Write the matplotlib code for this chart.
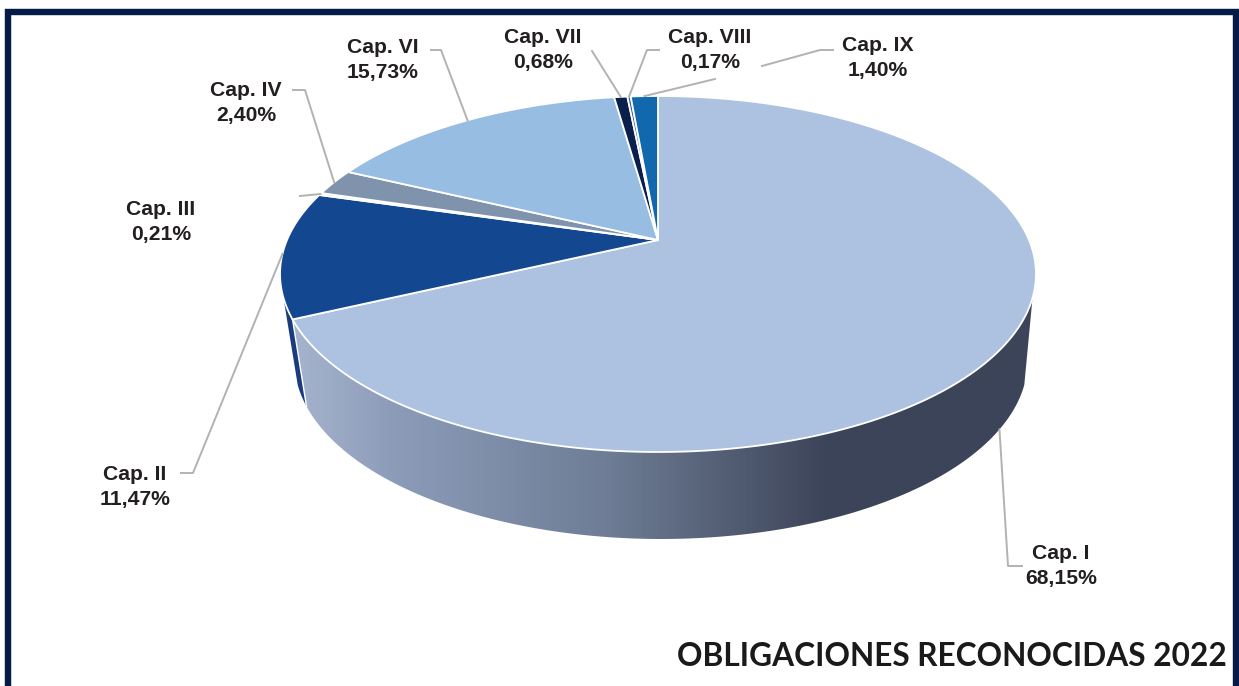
import numpy as np
import matplotlib
matplotlib.use("Agg")
from matplotlib import pyplot as plt
from matplotlib.colors import LinearSegmentedColormap
from matplotlib.patches import Polygon

labels = ["Cap. I", "Cap. II", "Cap. III", "Cap. IV", "Cap. VI", "Cap. VII", "Cap. VIII", "Cap. IX"]
values = [68.15, 11.47, 0.21, 2.40, 15.73, 0.68, 0.17, 1.40]
value_text = ["68,15%", "11,47%", "0,21%", "2,40%", "15,73%", "0,68%", "0,17%", "1,40%"]
colors = ["#adc2e1", "#134891", "#d3d3d3", "#7f93ad", "#98bde2", "#0a1f4c", "#2f5597", "#1268ad"]
title = "OBLIGACIONES RECONOCIDAS 2022"

# label centres, in pixels of the picture
label_pos = [(1061, 566), (135, 487), (161, 222), (246, 103), (383, 60), (543, 50), (710, 50), (878, 58)]
# elbow points of the leader lines, label side first
elbows = [
    [(1022, 566), (1008, 566)],
    [(181, 473), (193, 473)],
    [(300, 196)],
    [(293, 90), (305, 90)],
    [(431, 50), (441, 50)],
    [(592, 51)],
    [(659, 50), (647, 50)],
    [(833, 50), (820, 50)],
]

# tilted disc: circle seen in perspective, the apex sits above the ellipse centre
CX, CY = 658, 240
KX, KY, K = 371.0, 171.5, 0.191
DEPTH = 87
LINE = "#b2b2b2"


def rim(deg):
    t = np.radians(deg)
    u, v = np.sin(t), np.cos(t)
    return CX + KX * u / (1 + K * v), CY - KY * v / (1 + K * v)


def lower(deg):
    x, y = rim(deg)
    return 661 + (x - CX) * 0.97, y + DEPTH


fig = plt.figure(figsize=(12.39, 6.86), dpi=100)
ax = fig.add_axes([0, 0, 1, 1])
ax.set_axis_off()

edges = np.concatenate([[0], np.cumsum(values)]) / np.sum(values) * 360
mids = (edges[:-1] + edges[1:]) / 2

# side wall of Cap. II, behind the one of Cap. I
WALL_END = 108.5
WALL_START = 251.5
t = np.linspace(edges[1], WALL_START, 30)
xs = np.concatenate([rim(t)[0], lower(t)[0][::-1]])
ys = np.concatenate([rim(t)[1], lower(t)[1][::-1]])
ax.fill(xs, ys, color="#1a3c7d", lw=0, zorder=1)

# side wall of Cap. I with its horizontal gradient
t = np.linspace(WALL_END, edges[1], 200)
xs = np.concatenate([rim(t)[0], lower(t)[0][::-1]])
ys = np.concatenate([rim(t)[1], lower(t)[1][::-1]])
cmap = LinearSegmentedColormap.from_list(
    "wall",
    [(0, "#a6b4ce"), (0.14, "#8c9bb8"), (0.42, "#6f7e96"), (0.72, "#3c4459"), (1, "#3c4459")],
)
im = ax.imshow(np.linspace(0, 1, 400)[None, :], cmap=cmap, extent=(290, 1036, 560, 270),
               aspect="auto", zorder=2)
clip = Polygon(np.column_stack([xs, ys]), closed=True, transform=ax.transData, fc="none", ec="none")
ax.add_patch(clip)
im.set_clip_path(clip)
ax.plot([rim(edges[1])[0], lower(edges[1])[0]], [rim(edges[1])[1], lower(edges[1])[1]],
        color="white", lw=1.0, zorder=3)

# top face
for i in range(len(values)):
    t = np.linspace(edges[i], edges[i + 1], max(int(edges[i + 1] - edges[i]) * 3, 4))
    x, y = rim(t)
    ax.fill(np.r_[CX, x], np.r_[CY, y], facecolor=colors[i], edgecolor="white", lw=1.3,
            joinstyle="round", zorder=4)

# leader lines
for i in range(len(values)):
    end = lower(mids[i]) if i == 0 else rim(mids[i])
    pts = elbows[i]
    if labels[i] == "Cap. IX":
        # the line is broken where the Cap. VIII label box covers it
        ax.plot([pts[0][0], pts[1][0], 762], [pts[0][1], pts[1][1], 66], color=LINE, lw=1.4, zorder=5)
        ax.plot([715, end[0]], [79, end[1]], color=LINE, lw=1.4, zorder=5)
    else:
        ax.plot([p[0] for p in pts] + [end[0]], [p[1] for p in pts] + [end[1]], color=LINE, lw=1.4, zorder=5)

for i in range(len(values)):
    ax.text(label_pos[i][0], label_pos[i][1], labels[i] + "\n" + value_text[i], ha="center", va="center",
            family="Liberation Sans", weight="bold", fontsize=15.2, linespacing=1.38, color="#231f20", zorder=6)

ax.text(1227, 656, title, ha="right", va="center", family="Lato", weight="bold", fontsize=22.8,
        color="#1a1a1a", zorder=6)

# frame, open at the bottom
ax.plot([7.5, 7.5, 1236, 1236], [686, 12, 12, 686], color="#041a47", lw=4.6, solid_joinstyle="miter", zorder=7)

ax.set_xlim(0, 1239)
ax.set_ylim(686, 0)
fig.savefig("out.png", dpi=100)
